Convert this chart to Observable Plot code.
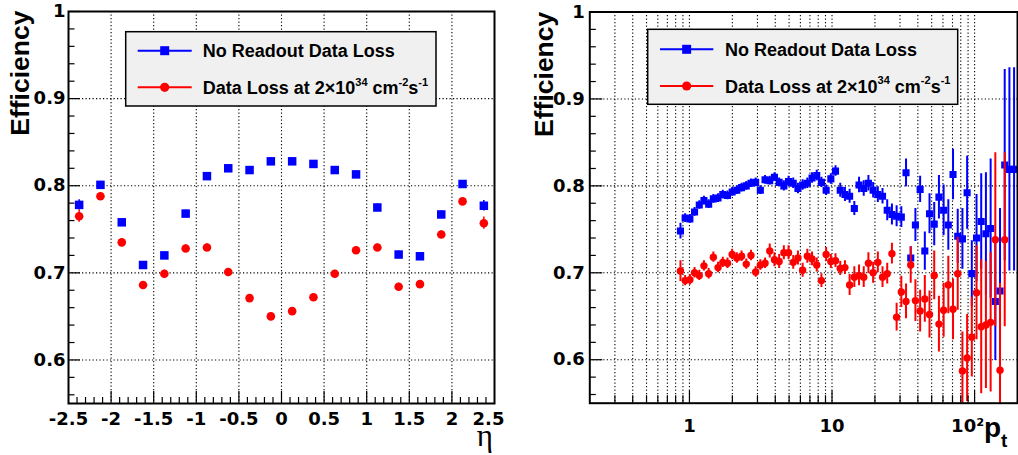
<!DOCTYPE html>
<html><head><meta charset="utf-8">
<script src="https://cdn.jsdelivr.net/npm/d3@7"></script>
<script src="https://cdn.jsdelivr.net/npm/@observablehq/plot@0.6"></script>
<style>
body{margin:0;background:#fff;}
#wrap{position:relative;width:1018px;height:455px;overflow:hidden;background:#fff;}
#wrap > svg{position:absolute;top:0;}
text{white-space:pre;}
</style></head><body><div id="wrap"></div>
<script>
// ---------- data: left panel (efficiency vs eta) ----------
const etaCenters = [-2.375,-2.125,-1.875,-1.625,-1.375,-1.125,-0.875,-0.625,-0.375,-0.125,0.125,0.375,0.625,0.875,1.125,1.375,1.625,1.875,2.125,2.375];
const etaEffNoLoss = [0.778,0.801,0.758,0.709,0.720,0.768,0.811,0.820,0.818,0.828,0.828,0.825,0.818,0.813,0.775,0.721,0.719,0.767,0.802,0.777];
const etaErrNoLoss = [0.006,0.004,0.004,0.004,0.004,0.004,0.004,0.004,0.004,0.004,0.004,0.004,0.004,0.004,0.004,0.004,0.004,0.004,0.004,0.006];
const etaEffLoss = [0.765,0.788,0.735,0.686,0.699,0.728,0.729,0.701,0.671,0.650,0.656,0.672,0.699,0.726,0.729,0.684,0.687,0.744,0.782,0.757];
const etaErrLoss = [0.007,0.004,0.004,0.004,0.004,0.004,0.004,0.004,0.004,0.004,0.004,0.004,0.004,0.004,0.004,0.004,0.004,0.004,0.004,0.007];

// ---------- data: right panel (efficiency vs pt) ----------
const ptBins = [0.865,0.933,1.007,1.086,1.172,1.264,1.364,1.471,1.587,1.713,
  1.848,1.993,2.150,2.320,2.503,2.701,2.913,3.143,3.391,3.658,
  3.947,4.258,4.593,4.956,5.346,5.768,6.223,6.713,7.243,7.813,
  8.429,9.095,9.811,10.58,11.42,12.32,13.29,14.34,15.47,16.69,
  18.00,19.43,20.96,22.61,24.39,26.32,28.39,30.63,33.05,35.65,
  38.46,41.50,44.77,48.30,52.11,56.22,60.66,65.43,70.60,76.16,
  82.17,88.65,95.61,103.2,111.3,120.1,129.6,139.8,150.8,162.7,
  175.5,189.3];
const ptEffNoLoss = [0.748,0.763,0.762,0.770,0.778,0.783,0.779,0.785,0.786,0.790,
  0.789,0.793,0.795,0.798,0.800,0.803,0.804,0.795,0.807,0.806,
  0.810,0.804,0.800,0.805,0.803,0.797,0.801,0.803,0.809,0.812,
  0.804,0.795,0.808,0.817,0.795,0.790,0.788,0.774,0.801,0.797,
  0.803,0.795,0.790,0.788,0.772,0.767,0.765,0.764,0.815,0.717,
  0.755,0.796,0.725,0.768,0.756,0.787,0.772,0.755,0.813,0.742,
  0.739,0.792,0.699,0.740,0.759,0.745,0.751,0.667,0.679,0.824,
  0.819,0.819];
const ptErrNoLoss = [0.009,0.005,0.005,0.005,0.005,0.005,0.005,0.005,0.005,0.005,
  0.005,0.005,0.005,0.005,0.005,0.005,0.005,0.005,0.005,0.005,
  0.005,0.005,0.006,0.006,0.006,0.006,0.006,0.006,0.006,0.006,
  0.006,0.006,0.006,0.006,0.008,0.008,0.008,0.008,0.009,0.009,
  0.009,0.009,0.009,0.009,0.012,0.012,0.012,0.012,0.016,0.013,
  0.019,0.015,0.022,0.023,0.025,0.025,0.029,0.029,0.029,0.031,
  0.035,0.042,0.038,0.050,0.055,0.070,0.080,0.068,0.095,0.110,
  0.117,0.117];
const ptEffLoss = [0.702,0.691,0.692,0.700,0.697,0.708,0.699,0.718,0.706,0.712,
  0.711,0.721,0.717,0.719,0.710,0.720,0.701,0.709,0.711,0.725,
  0.715,0.713,0.723,0.723,0.712,0.717,0.703,0.719,0.716,0.709,
  0.691,0.721,0.713,0.714,0.705,0.706,0.686,0.695,0.697,0.695,
  0.711,0.700,0.712,0.695,0.699,0.722,0.649,0.678,0.667,0.709,
  0.668,0.656,0.670,0.652,0.697,0.641,0.657,0.686,0.658,0.699,
  0.587,0.602,0.626,0.677,0.638,0.640,0.643,0.738,0.588,0.738];
const ptErrLoss = [0.012,0.006,0.006,0.006,0.006,0.006,0.006,0.006,0.006,0.006,
  0.006,0.006,0.006,0.006,0.006,0.006,0.006,0.006,0.006,0.008,
  0.008,0.008,0.008,0.008,0.008,0.008,0.008,0.008,0.008,0.008,
  0.008,0.008,0.008,0.008,0.008,0.008,0.012,0.012,0.012,0.012,
  0.012,0.012,0.012,0.012,0.012,0.012,0.016,0.018,0.020,0.021,
  0.024,0.024,0.027,0.027,0.028,0.032,0.031,0.033,0.035,0.042,
  0.045,0.050,0.046,0.054,0.077,0.073,0.080,0.100,0.100,0.100];

// ---------- axis ticks ----------
const etaLabelTicks = [-2.5,-2,-1.5,-1,-0.5,0,0.5,1,1.5,2];
const etaLastLabel = [2.5];
const etaGridTicks = [-2,-1.5,-1,-0.5,0,0.5,1,1.5,2];
const etaMinorTicks = d3.range(-24, 25).filter(k => k % 5 !== 0).map(k => k / 10);
const yMajorTicks = [0.6,0.7,0.8,0.9,1.0];
const yGridTicks = [0.6,0.7,0.8,0.9];
const yMinorTicks = d3.range(28, 50).filter(k => k % 5 !== 0).map(k => k / 50);
const ptMajorTicks = [1,10,100];
const ptMinorTicks = [0.1,1,10].flatMap(d => [2,3,4,5,6,7,8,9].map(k => +(k*d).toPrecision(3))).filter(v => v > 0.2 && v < 200);
const ptGridTicks = [...ptMinorTicks, 1, 10, 100];
const seriesNames = ["No Readout Data Loss", "Data Loss at 2×10"];

const blue = "#0000ff", red = "#ff0000";
const tickFont = {fontFamily: "DejaVu Sans", fontSize: 18, fontWeight: "bold"};
const dotted = {stroke: "#000", strokeOpacity: 1, strokeWidth: 1.1, strokeDasharray: "1.2,2.3"};
const rootStyle = {fontFamily: "DejaVu Sans", fontSize: "18px", fontWeight: "bold", background: "transparent", color: "#000", overflow: "visible"};

const rows = (xs, ys, es) => ys.map((y, i) => ({x: xs[i], y, e: es[i]}));
const etaNo = rows(etaCenters, etaEffNoLoss, etaErrNoLoss);
const etaLo = rows(etaCenters, etaEffLoss, etaErrLoss);
const ptNo = rows(ptBins, ptEffNoLoss, ptErrNoLoss);
const ptLo = rows(ptBins, ptEffLoss, ptErrLoss);

const W = 509, H = 455;

// ---------- left panel ----------
const L = {ml: 68, mr: 15, mt: 11, mb: 52};
const lpw = W - L.ml - L.mr, lph = H - L.mt - L.mb;
const leftPlot = Plot.plot({
  width: W, height: H,
  marginLeft: L.ml, marginRight: L.mr, marginTop: L.mt, marginBottom: L.mb,
  style: rootStyle,
  x: {domain: [-2.5, 2.5]},
  y: {domain: [0.55, 1]},
  marks: [
    Plot.gridX({ticks: etaGridTicks, ...dotted}),
    Plot.gridY({ticks: yGridTicks, ...dotted}),
    Plot.ruleX(etaNo, {x: "x", y1: d => d.y - d.e, y2: d => d.y + d.e, stroke: blue, strokeWidth: 1.5}),
    Plot.dot(etaNo, {x: "x", y: "y", symbol: "square", r: 4.8, fill: blue}),
    Plot.ruleX(etaLo, {x: "x", y1: d => d.y - d.e, y2: d => d.y + d.e, stroke: red, strokeWidth: 1.5}),
    Plot.dot(etaLo, {x: "x", y: "y", r: 4.3, fill: red}),
    Plot.tickX(etaMinorTicks, {x: d => d, insetTop: lph - 6, stroke: "#000", strokeWidth: 1.2}),
    Plot.tickX(etaGridTicks, {x: d => d, insetTop: lph - 12, stroke: "#000", strokeWidth: 1.2}),
    Plot.tickY(yMinorTicks, {y: d => d, insetRight: lpw - 6.5, stroke: "#000", strokeWidth: 1.2}),
    Plot.tickY(yMajorTicks, {y: d => d, insetRight: lpw - 12, stroke: "#000", strokeWidth: 1.2}),
    Plot.axisX({ticks: etaLabelTicks, tickSize: 0, tickPadding: 9, tickFormat: d => String(d), label: null, ...tickFont}),
    Plot.axisX({ticks: etaLastLabel, tickSize: 0, tickPadding: 9, tickFormat: d => String(d), dx: -6, label: null, ...tickFont}),
    Plot.axisY({ticks: yMajorTicks, tickSize: 0, tickPadding: 3, tickFormat: d => d === 1 ? "1" : d.toFixed(1), label: null, ...tickFont}),
    Plot.frame({stroke: "#000", strokeWidth: 2})
  ]
});

// ---------- right panel ----------
const R = {ml: 80.3, mr: 1, mt: 11.5, mb: 52.3};
const rpw = W - R.ml - R.mr, rph = H - R.mt - R.mb;
const rightPlot = Plot.plot({
  width: W, height: H,
  marginLeft: R.ml, marginRight: R.mr, marginTop: R.mt, marginBottom: R.mb,
  style: rootStyle,
  x: {type: "log", domain: [0.2, 200]},
  y: {domain: [0.55, 1]},
  marks: [
    Plot.gridX({ticks: ptGridTicks, ...dotted}),
    Plot.gridY({ticks: yGridTicks, ...dotted}),
    Plot.ruleX(ptNo, {x: "x", y1: d => d.y - d.e, y2: d => d.y + d.e, stroke: blue, strokeWidth: 2, clip: true}),
    Plot.dot(ptNo, {x: "x", y: "y", symbol: "square", r: 4.0, fill: blue, clip: true}),
    Plot.ruleX(ptLo, {x: "x", y1: d => d.y - d.e, y2: d => d.y + d.e, stroke: red, strokeWidth: 2, clip: true}),
    Plot.dot(ptLo, {x: "x", y: "y", r: 3.7, fill: red, clip: true}),
    Plot.tickX(ptMinorTicks, {x: d => d, insetTop: rph - 7.5, stroke: "#000", strokeWidth: 1.2}),
    Plot.tickX(ptMajorTicks, {x: d => d, insetTop: rph - 12.5, stroke: "#000", strokeWidth: 1.2}),
    Plot.tickY(yMinorTicks, {y: d => d, insetRight: rpw - 6.5, stroke: "#000", strokeWidth: 1.2}),
    Plot.tickY(yMajorTicks, {y: d => d, insetRight: rpw - 13, stroke: "#000", strokeWidth: 1.2}),
    Plot.axisX({ticks: [1, 10], tickSize: 0, tickPadding: 16.5, tickFormat: d => String(d), label: null, ...tickFont}),
    Plot.axisX({ticks: [100], tickSize: 0, tickPadding: 16.5, tickFormat: () => "10²", dx: -7, label: null, ...tickFont}),
    Plot.axisY({ticks: yMajorTicks, tickSize: 0, tickPadding: 5, tickFormat: d => d === 1 ? "1" : d.toFixed(1), label: null, ...tickFont}),
    Plot.frame({stroke: "#000", strokeWidth: 2})
  ]
});

const wrap = document.getElementById("wrap");
leftPlot.style.left = "0px";
rightPlot.style.left = W + "px";
wrap.appendChild(leftPlot);
wrap.appendChild(rightPlot);

// ---------- titles & legends ----------
const sans = "'Liberation Sans', Arial, Helvetica, sans-serif";
function yTitle(svg, x, y) {
  d3.select(svg).append("text")
    .attr("transform", `translate(${x},${y}) rotate(-90)`)
    .attr("text-anchor", "end")
    .attr("font-family", sans).attr("font-size", 26.5).attr("font-weight", "bold")
    .attr("fill", "#000").text("Efficiency");
}
function legend(svg, o) {
  const g = d3.select(svg).append("g").attr("font-family", sans).attr("font-weight", "bold")
    .attr("font-size", 18).attr("fill", "#000").attr("text-anchor", "start");
  g.append("rect").attr("x", o.x).attr("y", o.y).attr("width", o.w).attr("height", o.h)
    .attr("fill", "#f0f0f0").attr("stroke", "#000").attr("stroke-width", 1.5);
  const mid = (o.lx1 + o.lx2) / 2;
  g.append("line").attr("x1", o.lx1).attr("x2", o.lx2).attr("y1", o.y1).attr("y2", o.y1).attr("stroke", blue).attr("stroke-width", 2);
  g.append("rect").attr("x", mid - 4.5).attr("y", o.y1 - 4.5).attr("width", 9).attr("height", 9).attr("fill", blue);
  g.append("text").attr("x", o.tx).attr("y", o.b1).attr("text-anchor", "start").text(seriesNames[0]);
  g.append("line").attr("x1", o.lx1).attr("x2", o.lx2).attr("y1", o.y2).attr("y2", o.y2).attr("stroke", red).attr("stroke-width", 2);
  g.append("circle").attr("cx", mid).attr("cy", o.y2).attr("r", 4.6).attr("fill", red);
  const t = g.append("text").attr("x", o.tx).attr("y", o.b2).attr("text-anchor", "start");
  t.append("tspan").text(seriesNames[1]);
  t.append("tspan").attr("dy", -8.5).attr("font-size", 11).text("34");
  t.append("tspan").attr("dy", 8.5).text(" cm");
  t.append("tspan").attr("dy", -8.5).attr("font-size", 11).text("-2");
  t.append("tspan").attr("dy", 8.5).text("s");
  t.append("tspan").attr("dy", -8.5).attr("font-size", 11).text("-1");
}

yTitle(leftPlot, 29.3, 10.5);
yTitle(rightPlot, 44.3, 11.7);
legend(leftPlot, {x: 125.7, y: 31.7, w: 310.3, h: 74.3, lx1: 137.7, lx2: 191.7, y1: 50.7, y2: 87.3, tx: 202.7, b1: 57, b2: 94});
legend(rightPlot, {x: 138.7, y: 29.3, w: 310, h: 75, lx1: 151, lx2: 204.3, y1: 49.3, y2: 86, tx: 216, b1: 55.6, b2: 92.6});

// x-axis titles
d3.select(leftPlot).append("text").attr("x", 493).attr("y", 446).attr("text-anchor", "end")
  .attr("font-family", "'Liberation Serif', 'DejaVu Serif', serif").attr("font-weight", "normal")
  .attr("font-size", 31).attr("fill", "#000").text("η");
const pt = d3.select(rightPlot).append("text").attr("x", 475).attr("y", 437).attr("text-anchor", "start")
  .attr("font-family", sans).attr("font-weight", "bold").attr("font-size", 28).attr("fill", "#000");
pt.append("tspan").text("p");
pt.append("tspan").attr("dy", 10).attr("font-size", 19).text("t");
</script></body></html>
